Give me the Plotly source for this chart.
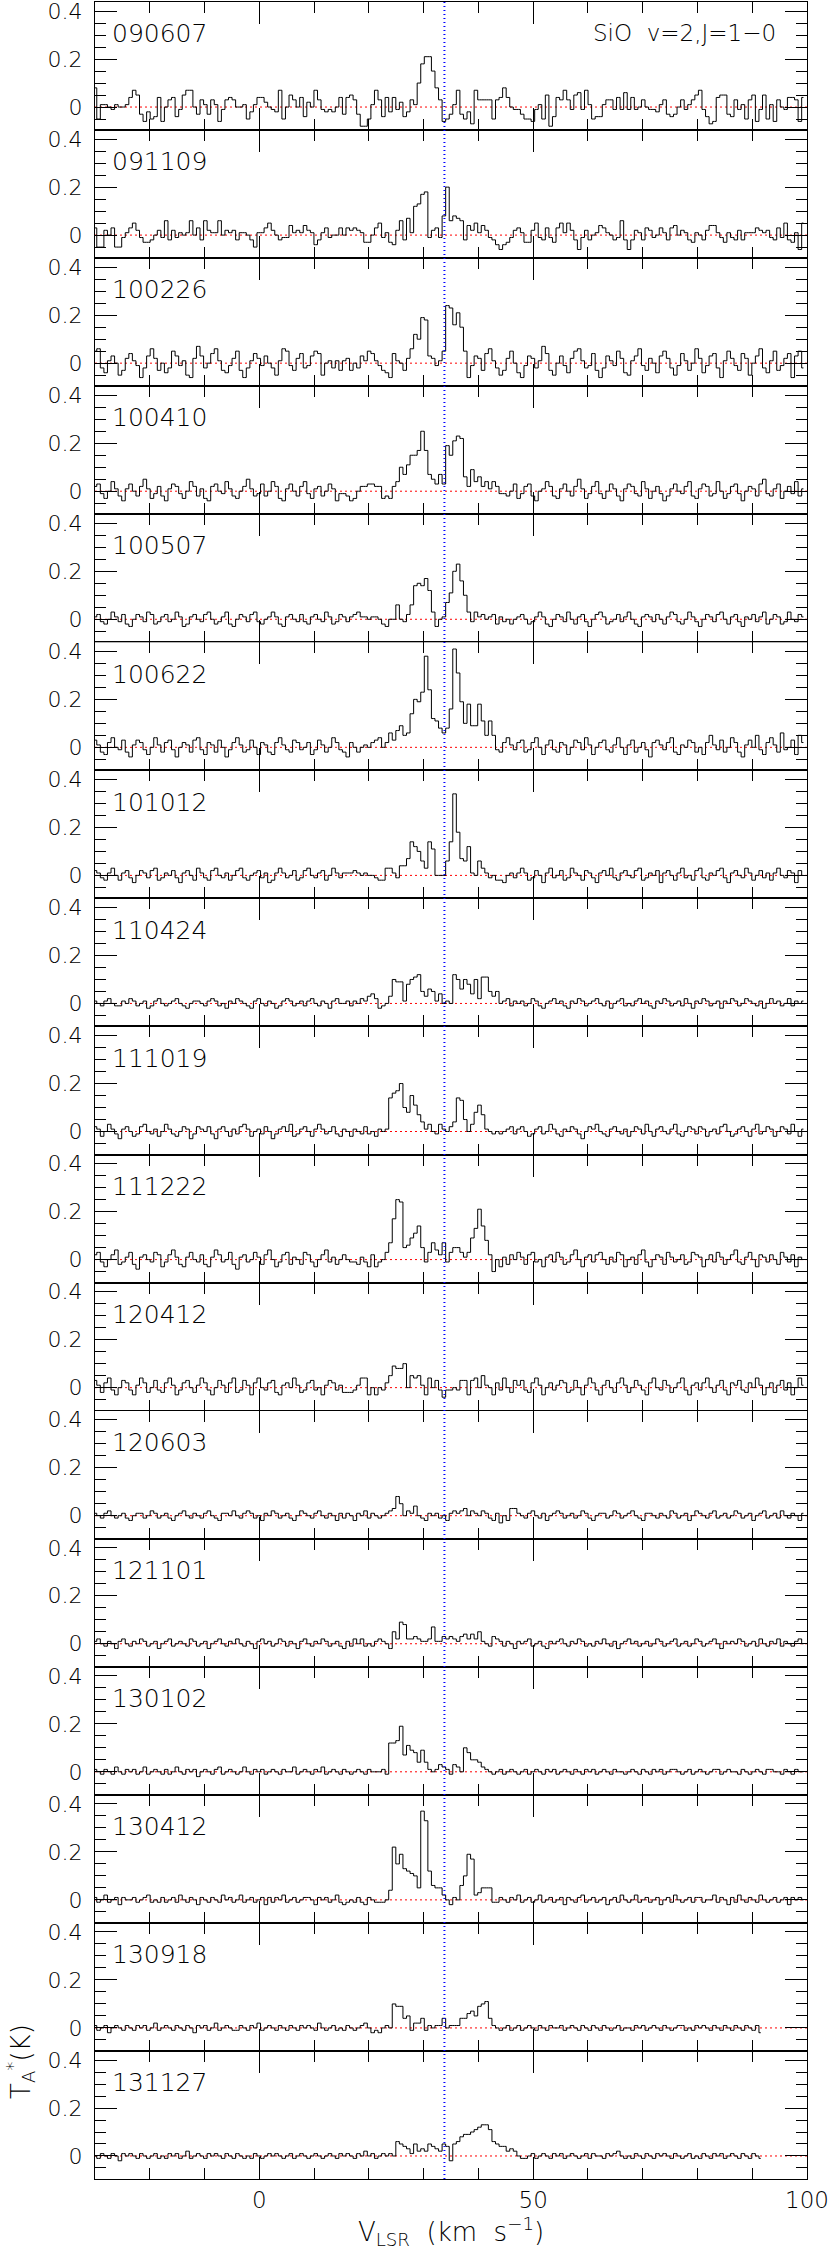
import numpy as np
import plotly.graph_objects as go
from plotly.subplots import make_subplots

# ---------------- data (antenna temperature in units of 0.01 K) ----------------
V_START = -30.0      # km/s, velocity of first channel
CHAN_WIDTH = 0.65    # km/s
V_STAR = 33.8        # km/s, systemic velocity marker
TITLE = "SiO  v=2,J=1\u22120"
dates = ["090607", "091109", "100226", "100410", "100507", "100622", "101012",
         "110424", "111019", "111222", "120412", "120603", "121101", "130102",
         "130412", "130918", "131127"]

spec_090607 = [
    8,-5,1,1,0,-1,1,0,0,1,  4,7,5,-3,-6,-2,-5,-4,4,-6,
    0,3,4,-4,-1,5,7,7,0,-3,  3,1,-3,3,1,-6,-1,3,4,3,
    0,0,1,-5,-2,1,4,4,2,0,  -1,-2,7,-5,0,5,3,0,4,-4,
    2,0,7,3,-1,-2,-1,-2,0,4,  -3,4,5,3,-3,-8,-8,-5,1,7,
    3,-4,4,-2,4,-1,2,-4,-2,3,  1,10,18,21,21,15,8,3,-6,-5,
    -3,1,7,-3,-5,-2,-7,7,3,3,  3,3,-5,3,4,8,4,0,-1,-1,
    -3,-5,-5,-6,-1,1,-5,5,-8,-4,  4,3,7,3,-1,5,6,-1,7,1,
    -5,-4,-4,1,3,3,-1,4,-1,6,  -1,4,-1,0,3,0,-1,-1,-2,1,
    3,-3,-4,-3,0,3,-1,1,3,5,  7,-1,-4,-7,-6,4,5,5,-3,-4,
    3,-1,1,-5,3,5,-6,-1,5,-5,  1,-6,3,0,-1,4,4,3,-6,4]

spec_091109 = [
    3,-5,-5,2,0,3,-5,-5,-1,1,  3,5,2,-1,-3,-3,-2,0,2,-1,
    6,-2,2,-1,1,0,1,6,0,3,  -2,6,2,1,1,6,0,2,1,2,
    -2,1,1,0,-2,-5,1,1,3,5,  2,0,-2,-1,-1,4,1,2,1,4,
    2,1,-4,-2,1,3,-1,0,0,3,  0,3,2,3,2,1,-3,-3,0,3,
    5,-1,1,-3,-4,2,6,-2,7,1,  12,13,17,18,-1,2,3,-1,8,20,
    6,8,7,6,-2,4,2,5,1,4,  2,-1,-2,-4,-6,-4,-3,-1,2,3,
    1,-3,-3,2,5,-1,-2,3,-1,-3,  3,5,1,5,2,-2,-6,-1,2,-2,
    0,1,4,3,1,0,-2,-1,6,-2,  -6,-2,2,1,-2,3,2,-1,0,3,
    1,-2,3,4,0,2,1,-2,-3,1,  0,-2,2,4,4,1,-1,-3,1,-1,
    -2,2,-2,1,1,1,3,2,1,2,  -1,-2,3,-1,5,-2,-3,1,-6,5]

spec_100226 = [
    5,6,-2,-4,1,3,0,-5,-3,2,  4,1,-1,-6,-2,3,6,2,-3,0,
    -4,-2,5,3,-1,1,-5,-6,2,7,  3,-2,0,4,6,1,-3,-4,-1,2,
    5,-3,-6,-2,1,4,2,-1,3,0,  -2,-5,1,6,5,-1,-3,2,4,-2,
    -1,3,5,4,-5,0,1,-2,1,-3,  1,2,-3,0,-2,3,1,5,4,1,
    -1,-3,-4,-6,4,1,0,-3,2,6,  12,10,19,18,3,2,-1,1,5,24,
    23,16,21,15,5,-6,-1,3,2,-3,  4,6,1,-2,-5,-3,2,5,0,-4,
    -6,-1,3,2,-2,1,7,4,-3,-5,  0,3,-1,-4,2,5,6,1,-2,-1,
    4,-3,-6,-2,3,1,-1,5,2,-4,  -5,1,3,6,-1,-3,2,0,-4,3,
    5,2,-2,-5,-1,4,1,-3,0,6,  2,-4,-1,3,4,-2,-6,1,5,2,
    -1,-3,4,2,-5,0,3,6,-2,-4,  1,5,-3,-1,2,4,-6,3,5,-2]

spec_100410 = [
    2,3,-1,-3,0,4,1,-2,-4,1,  3,0,-2,2,5,1,-3,-1,2,-2,
    -4,1,3,2,-1,-3,0,4,2,-2,  1,-3,-4,2,3,0,-1,4,1,-2,
    -3,0,2,5,1,-2,-1,3,-2,0,  4,2,-3,-4,1,3,0,-2,2,4,
    -1,-3,1,2,-2,0,3,1,-4,-1,  -1,-2,-4,-3,0,2,2,3,3,2,
    2,-3,-2,-3,2,4,10,7,11,15,  15,17,25,17,7,5,3,7,3,19,
    15,21,23,22,6,2,9,4,6,2,  4,1,4,2,-1,-1,-2,0,3,-3,
    -1,2,3,-2,-4,0,1,4,2,-2,  -3,1,3,0,-2,2,5,1,-3,-1,
    2,4,-1,-3,0,3,1,-2,-4,1,  3,2,-1,-2,4,1,-3,0,2,-1,
    -4,-2,1,3,0,-1,2,4,-2,-3,  1,3,2,-2,-1,4,0,-3,-1,2,
    3,-1,-4,0,2,1,-2,3,5,-1,  -2,1,3,-3,0,2,-1,4,-2,1]

spec_100507 = [
    1,2,-1,-2,0,3,1,-1,2,-2,  -3,0,2,1,-1,3,2,-2,-1,1,
    2,-1,0,3,1,-3,-2,1,2,0,  -1,2,3,0,-2,-1,1,3,-2,-3,
    0,2,1,-1,2,3,-1,-2,0,1,  3,1,-2,-3,1,2,0,-1,2,-1,
    -2,1,2,0,-1,3,1,-2,-1,2,  1,-1,1,2,3,1,1,0,1,1,
    0,-2,-3,0,0,6,0,-1,2,6,  14,15,14,17,12,3,-3,0,1,7,
    11,20,23,16,10,3,-1,3,1,2,  0,1,2,-2,1,-1,0,-2,0,1,
    2,0,-2,-1,1,3,1,-2,-3,0,  2,1,-1,3,0,-2,1,2,-1,-3,
    0,2,3,1,-2,-1,0,2,-1,1,  3,0,-2,-3,1,2,1,-1,2,0,
    -2,1,3,2,-1,-2,0,3,1,-1,  -3,0,2,1,-1,2,3,0,-2,1,
    2,-1,-3,1,0,2,-1,1,3,-2,  0,2,1,-2,-1,3,0,-1,2,1]

spec_100622 = [
    3,1,-2,-3,2,4,0,-1,3,-2,  -4,1,3,2,-1,-3,0,4,1,-2,
    2,3,-1,-4,0,2,1,-2,3,4,  -1,-3,2,1,-2,3,0,-4,-1,2,
    4,1,-2,-1,3,0,-3,2,1,-2,  -3,2,4,1,-1,-2,3,2,-1,0,
    2,-3,-1,3,1,-2,0,4,2,-1,  -2,-4,2,0,-2,0,1,0,2,3,
    4,0,2,6,3,7,9,5,6,14,  20,19,23,38,24,12,11,8,6,8,
    16,41,31,19,10,18,9,9,18,11,  5,11,5,-1,-2,2,4,1,-1,2,
    3,-2,-1,2,4,0,-3,1,3,-1,  -2,2,1,-3,0,3,2,-1,4,1,
    -3,0,2,3,-1,-2,1,4,0,-3,  1,3,-2,0,2,-1,-4,2,3,1,
    -1,2,4,-2,-3,1,0,3,2,-2,  0,-3,2,5,1,-1,3,-2,0,4,
    2,-2,-4,1,3,0,5,-1,-3,2,  4,1,-2,6,-1,0,3,-3,5,2]

spec_101012 = [
    2,1,-1,-2,1,3,0,-2,1,2,  -1,-3,0,2,1,-1,2,3,-2,-1,
    1,0,2,-1,-3,1,2,0,-2,3,  1,-1,-2,2,3,0,-1,1,-2,0,
    2,3,-1,-2,0,1,2,-1,1,-3,  -2,1,3,1,-1,0,2,-2,-1,2,
    3,0,-1,1,2,-2,0,3,1,-1,  1,1,1,2,1,0,1,0,0,-1,
    -2,-2,3,3,1,-1,4,4,7,14,  12,10,6,3,14,11,0,0,0,6,
    14,34,18,7,6,12,1,0,6,3,  1,-1,0,-2,-2,-3,0,1,-1,1,
    3,1,-2,-1,2,0,-3,1,3,-1,  0,2,-2,-1,3,1,0,-2,2,1,
    -1,-3,1,2,0,3,-1,-2,1,2,  0,-1,2,3,-2,-1,1,0,2,-3,
    1,2,0,-2,1,3,-1,0,-2,2,  3,-1,-2,1,0,2,3,-1,-3,1,
    2,0,-1,3,1,-2,0,2,-1,1,  -2,1,3,0,-1,2,1,-3,2,0]

spec_110424 = [
    1,0,-1,1,2,0,-1,-1,1,0,  2,1,-1,0,1,-2,-1,1,2,0,
    -1,0,1,2,0,-1,-2,0,1,1,  0,-1,1,2,1,-1,0,-2,1,0,
    2,1,0,-1,-2,1,2,0,-1,1,  0,-2,-1,1,2,1,-1,0,1,-1,
    1,2,0,-1,1,0,-2,1,2,0,  0,1,-1,1,0,2,1,3,4,2,
    -2,-1,0,3,10,9,9,1,8,10,  11,12,5,3,6,5,1,4,0,1,
    0,12,10,6,10,8,4,10,2,11,  11,5,3,5,0,1,2,-1,1,0,
    1,-1,0,2,1,-1,-2,0,1,2,  0,1,-1,-2,1,0,2,1,-1,0,
    1,2,0,-1,1,-2,0,1,2,-1,  0,-1,1,2,0,1,-1,-2,1,0,
    2,1,-1,0,1,-1,2,0,-2,1,  0,2,1,-1,0,1,-2,1,0,2,
    1,-1,0,2,1,0,-1,1,-2,0,  2,0,1,-1,0,2,-1,1,0,1]

spec_111019 = [
    2,1,-2,0,3,1,-1,-3,1,2,  0,-2,-1,2,3,0,-1,1,-2,0,
    3,1,-1,-2,0,2,1,-3,-1,2,  1,0,2,-1,-3,1,2,0,-2,1,
    -1,2,3,1,-2,0,1,-1,2,0,  -3,-1,1,2,0,3,-2,-1,1,2,
    0,-2,1,3,1,-1,0,2,-1,-2,  1,0,-2,1,0,-1,2,-1,0,-2,
    1,0,1,14,16,17,20,10,8,15,  11,7,4,1,3,0,-1,3,1,0,
    2,4,14,13,5,0,3,8,11,7,  1,0,-1,0,-1,0,1,2,-1,1,
    2,0,-2,-1,1,2,-1,0,3,1,  -1,-2,1,0,2,1,-1,-3,0,2,
    1,3,0,-1,-2,1,2,0,-1,1,  -2,0,2,1,-1,3,0,-2,1,2,
    0,-1,1,3,-1,-2,0,2,1,-1,  2,1,-2,0,1,-1,2,3,0,-2,
    -1,1,2,0,-2,1,3,-1,0,2,  1,-2,0,2,1,-1,3,0,-2,1]

spec_111222 = [
    2,3,-1,-3,0,2,4,-2,-1,1,  3,-2,-4,1,2,0,-1,3,2,-3,
    -1,2,4,1,-2,-3,1,3,0,-1,  2,-2,-3,1,4,2,-1,0,3,-2,
    -4,1,2,-1,0,3,1,-2,2,4,  0,-3,-1,2,3,-2,1,0,-2,3,
    2,-1,-3,0,2,4,-1,1,-2,0,  2,0,-1,-1,-2,1,-1,-3,2,-3,
    -1,0,3,7,17,25,24,5,6,9,  11,14,5,-1,3,7,4,2,7,-1,
    3,5,5,3,1,3,9,13,21,14,  8,2,-5,0,-3,1,-2,2,0,3,
    1,-2,2,3,-1,0,-3,1,2,-1,  3,1,-2,-1,2,4,0,-3,1,2,
    -1,2,3,0,-2,1,-1,3,2,-3,  0,1,-2,2,4,-1,-3,0,2,1,
    -2,3,1,-1,0,2,-2,-1,3,2,  1,-3,0,2,-1,3,1,-2,0,2,
    4,-1,-2,1,3,0,-3,2,1,-1,  2,0,-2,3,1,-1,2,-3,1,0]

spec_120412 = [
    3,1,-2,2,4,-1,-3,0,3,2,  -1,-3,1,4,2,-2,0,3,-1,-2,
    2,4,1,-3,-1,2,3,0,-2,1,  4,2,-1,-3,0,3,1,-2,2,4,
    -2,-1,3,1,-3,2,4,0,-1,2,  3,-2,-3,1,2,0,4,1,-2,-1,
    2,3,-1,0,-3,1,3,2,-1,1,  -2,-2,-2,-1,1,4,4,-3,0,-3,
    0,-1,2,5,9,8,8,10,0,5,  4,5,1,-3,4,0,3,-1,-4,-1,
    -1,0,-1,3,3,-3,3,4,0,5,  1,0,-3,2,-1,4,0,-2,3,1,
    3,-1,-2,2,4,1,-3,0,2,-1,  1,3,2,-2,-1,3,0,-3,1,4,
    2,-1,-3,1,3,0,-2,2,4,1,  -2,0,3,1,-1,-3,2,4,0,-1,
    3,1,-2,0,2,4,-1,-3,1,2,  -1,2,4,0,-2,1,3,-1,-3,2,
    1,3,-1,-2,2,0,4,1,-3,0,  2,-2,1,3,-1,2,-3,0,4,1]

spec_120603 = [
    1,0,-1,1,2,0,-1,0,1,-1,  -2,0,1,1,-1,0,2,1,-1,0,
    1,-1,-2,0,1,2,0,-1,1,0,  -1,1,2,0,-1,-2,1,1,0,2,
    0,-1,1,2,1,-1,0,-2,1,0,  2,1,-1,0,1,-1,-2,0,2,1,
    0,-1,1,2,0,-1,1,0,-2,1,  -1,1,0,-2,1,0,2,-1,1,0,
    -1,0,1,2,3,8,5,0,2,1,  4,0,-1,-2,1,0,1,-1,0,-2,
    1,2,1,2,3,0,2,1,0,2,  1,-1,-2,1,-3,0,-2,3,3,1,
    0,-1,1,2,0,-1,1,-2,0,1,  2,1,-1,0,1,-1,0,2,1,-1,
    -2,0,1,1,-1,0,2,1,-1,0,  1,2,0,-1,-2,1,1,0,-1,1,
    0,-1,2,1,-1,0,1,-2,0,2,  1,0,-1,1,2,-1,0,1,-1,0,
    2,1,-1,0,1,-2,0,1,2,-1,  0,1,-1,2,0,-1,1,0,-2,1]

spec_121101 = [
    1,2,0,-1,1,0,-2,1,2,0,  -1,1,0,2,1,-1,0,1,-2,0,
    1,2,-1,0,1,0,-1,2,1,-1,  0,1,-2,0,1,2,0,-1,1,0,
    2,0,-1,1,0,-2,1,2,0,1,  -1,0,2,1,-1,1,0,-2,1,2,
    0,-1,1,0,2,1,-1,0,1,-1,  -2,1,-1,2,0,2,-1,0,-1,1,
    2,1,0,-2,5,2,9,8,2,2,  3,2,1,1,2,7,1,1,3,2,
    3,2,1,3,4,2,4,2,5,1,  0,-1,3,2,1,-1,1,0,-2,1,
    0,1,2,-1,0,1,-1,-2,1,0,  1,2,0,-1,1,0,2,1,-1,0,
    -1,1,0,2,0,-1,1,-2,0,1,  2,0,1,-1,0,1,-1,0,2,1,
    -1,0,1,2,-1,0,1,-1,0,2,  1,-1,0,1,2,0,-2,1,0,1,
    0,2,1,-1,0,1,-1,2,0,-1,  1,0,2,-1,1,0,-1,1,2,0]

spec_130102 = [
    1,0,-1,1,0,-1,2,0,-1,1,  0,1,-1,0,2,-1,0,1,0,-1,
    1,-1,0,2,0,-1,1,0,1,-2,  0,1,0,-1,1,2,-1,0,1,0,
    -1,0,2,0,-1,1,0,1,-1,0,  1,0,-1,1,0,0,2,-1,0,1,
    0,-1,1,0,2,-1,0,1,0,-1,  1,0,-1,0,1,0,-1,1,0,0,
    0,1,-1,12,12,13,19,7,11,9,  8,4,9,4,1,0,1,3,2,1,
    -1,3,2,0,10,8,5,5,4,2,  1,0,-1,0,1,-1,0,1,0,-1,
    0,1,-1,0,1,0,-1,1,0,1,  -1,0,1,0,-1,1,0,-1,1,0,
    1,-1,0,1,0,-1,1,0,0,-1,  0,1,0,-1,1,0,-1,1,0,1,
    -1,0,1,1,0,-1,0,1,-1,0,  1,0,-1,0,1,1,-1,0,1,0,
    0,-1,1,0,-1,0,1,0,-1,1,  1,0,0,-1,1,0,-1,1,0,0]

spec_130412 = [
    1,-1,0,2,-1,0,1,-2,1,0,  0,1,-1,0,1,2,-1,0,-1,1,
    -1,0,1,-1,2,0,-1,1,0,-2,  1,0,-1,1,0,-1,2,0,1,-1,
    0,2,-1,0,1,-1,0,1,-2,1,  -1,1,0,2,-1,0,1,-1,0,1,
    1,0,-2,1,0,1,-1,0,2,-1,  -2,-1,0,-1,1,-1,-2,1,0,-1,
    -1,-1,0,4,22,15,19,13,12,11,  10,5,37,33,12,6,5,5,2,0,
    -2,1,0,6,10,19,17,2,3,5,  5,5,-1,-1,1,0,-1,1,0,2,
    -1,0,1,-1,0,2,-1,0,1,-1,  0,1,-2,1,0,-1,1,2,-1,0,
    1,-1,0,1,-2,0,1,-1,2,0,  -1,0,2,-1,0,1,-1,0,1,-2,
    0,1,-1,2,0,-1,0,1,-1,1,  1,-1,0,0,2,-1,1,0,-2,1,
    -1,2,0,-1,1,0,-1,2,0,-1,  0,1,-1,0,1,-2,1,0,1,0]

spec_130918 = [
    1,-1,0,1,-2,0,1,0,-1,1,  0,-1,1,0,1,-1,0,2,-1,0,
    1,0,-1,1,0,-1,1,0,-2,1,  0,1,-1,0,2,-1,0,1,0,-1,
    -1,1,0,-1,1,0,2,-1,0,1,  0,-1,1,0,-1,1,0,-1,1,0,
    1,0,-1,2,0,-1,0,1,-1,0,  -1,1,0,-1,0,1,2,0,-2,-1,
    -2,0,1,0,10,9,9,4,5,-1,  2,2,4,-1,1,0,1,1,4,0,
    1,1,1,4,4,6,7,5,9,10,  11,4,1,0,-1,0,1,-1,0,1,
    -1,0,1,0,-1,1,0,-1,1,0,  0,1,-1,0,1,0,-1,1,0,-1,
    1,0,-1,1,0,-1,0,1,-1,0,  0,-1,1,0,1,-1,0,1,0,-1,
    1,0,-1,0,1,1,-1,0,-1,1,  0,1,0,-1,1,0,-1,1,0,-1,
    1,0,-1,1,0,-1,1,-2]

spec_131127 = [
    0,-1,1,0,-1,1,0,-2,1,0,  1,0,-1,1,0,-1,0,1,-1,0,
    -1,1,0,1,-1,0,2,-1,0,1,  0,-1,1,0,1,0,-1,1,0,-1,
    1,0,-1,0,-1,1,0,-1,0,1,  0,1,0,-1,0,1,-1,0,1,0,
    -1,0,1,0,-1,0,1,0,-1,1,  0,1,0,-1,1,0,2,0,1,-1,
    0,1,0,1,0,6,5,4,3,1,  5,2,3,2,5,4,3,2,5,4,
    -2,5,6,8,9,9,10,11,12,13,  13,11,6,5,4,4,2,3,2,0,
    -1,-1,0,1,-1,0,1,0,-1,1,  0,1,-1,0,1,0,-1,0,1,-1,
    1,0,0,-1,1,0,1,2,0,-1,  0,-1,1,0,-1,1,0,-1,1,0,
    1,0,-1,1,0,-1,0,1,-1,0,  -1,1,0,-1,1,0,1,-1,0,1,
    0,-1,1,0,-1,1,0,-1]

spectra = [spec_090607, spec_091109, spec_100226, spec_100410, spec_100507,
           spec_100622, spec_101012, spec_110424, spec_111019, spec_111222,
           spec_120412, spec_120603, spec_121101, spec_130102, spec_130412,
           spec_130918, spec_131127]

X_RANGE = [-30, 100]
Y_RANGE = [-0.096, 0.438]
Y_TICKS = [0, 0.2, 0.4]
Y_TICKTEXT = ["0", "0.2", "0.4"]
Y_MINOR = [-0.05, 0.05, 0.1, 0.15, 0.25, 0.3, 0.35]

# ---------------- figure ----------------
N = len(dates)
W, H = 830, 2253
ML, MR, MT, MB = 95, 23, 2, 74
FONT = "DejaVu Sans"
FW = 200

fig = make_subplots(rows=N, cols=1, shared_xaxes=True, vertical_spacing=0)

for k, (d, s) in enumerate(zip(dates, spectra)):
    row = k + 1
    v = V_START + CHAN_WIDTH * np.arange(len(s))
    t = np.array(s, dtype=float) / 100.0
    fig.add_trace(go.Scatter(x=X_RANGE, y=[0, 0], mode="lines",
                             line=dict(color="red", width=1, dash="2px,3px"),
                             hoverinfo="skip", showlegend=False), row=row, col=1)
    fig.add_trace(go.Scatter(x=v, y=t, mode="lines",
                             line=dict(color="black", width=1, shape="hvh"),
                             showlegend=False), row=row, col=1)
    suffix = "" if row == 1 else str(row)
    fig.add_annotation(text=d, xref=f"x{suffix} domain", yref=f"y{suffix} domain",
                       x=0.021, y=0.752, xanchor="left", yanchor="middle",
                       showarrow=False,
                       font=dict(family=FONT, size=25, color="black", weight=FW))

fig.update_yaxes(range=Y_RANGE, tickmode="array", tickvals=Y_TICKS, ticktext=Y_TICKTEXT,
                 ticks="inside", ticklen=22, tickwidth=1, tickcolor="black",
                 minor=dict(tickmode="array", tickvals=Y_MINOR, ticks="inside",
                            ticklen=11, tickwidth=1, tickcolor="black"),
                 showline=True, linecolor="black", linewidth=1, mirror="allticks",
                 showgrid=False, zeroline=False, ticklabelstandoff=7, automargin=False,
                 ticklabeloverflow="allow",
                 tickfont=dict(family=FONT, size=22, color="black", weight=FW))
fig.update_xaxes(range=X_RANGE, tickmode="linear", tick0=0, dtick=50,
                 ticks="inside", ticklen=22, tickwidth=1, tickcolor="black",
                 minor=dict(tickmode="linear", tick0=0, dtick=10, ticks="inside",
                            ticklen=11, tickwidth=1, tickcolor="black"),
                 showline=True, linecolor="black", linewidth=1, mirror="allticks",
                 showgrid=False, zeroline=False, automargin=False,
                 ticklabeloverflow="allow",
                 tickfont=dict(family=FONT, size=23, color="black", weight=FW))
fig.update_xaxes(title=dict(text="V<sub>LSR</sub>  (km  s<sup>\u22121</sup>)",
                            font=dict(family=FONT, size=26, color="black", weight=FW),
                            standoff=2),
                 row=N, col=1)

# systemic velocity marker through all panels
fig.add_shape(type="line", xref=f"x{N}", yref="paper", x0=V_STAR, x1=V_STAR, y0=0, y1=1,
              line=dict(color="blue", width=2, dash="1px,3px"))

plot_h = H - MT - MB
plot_w = W - ML - MR
fig.add_annotation(text=TITLE, xref="paper", yref="paper",
                   x=(778 - ML) / plot_w, y=1 - (33 - MT) / plot_h,
                   xanchor="right", yanchor="middle", showarrow=False,
                   font=dict(family=FONT, size=23, color="black", weight=FW))
fig.add_annotation(text="T<sub>A</sub><sup>*</sup>(K)", xref="paper", yref="paper",
                   x=(20 - ML) / plot_w, y=1 - (2062 - MT) / plot_h,
                   xanchor="center", yanchor="middle", textangle=-90, showarrow=False,
                   font=dict(family=FONT, size=26, color="black", weight=FW))

fig.update_layout(width=W, height=H, margin=dict(l=ML, r=MR, t=MT, b=MB),
                  paper_bgcolor="white", plot_bgcolor="white",
                  font=dict(family=FONT, color="black", weight=FW), showlegend=False)

# remove the default 8px page margin so the figure sits at the window origin
fig.write_html("out.html", config={"displayModeBar": False},
               post_script="document.body.style.margin='0px';")
